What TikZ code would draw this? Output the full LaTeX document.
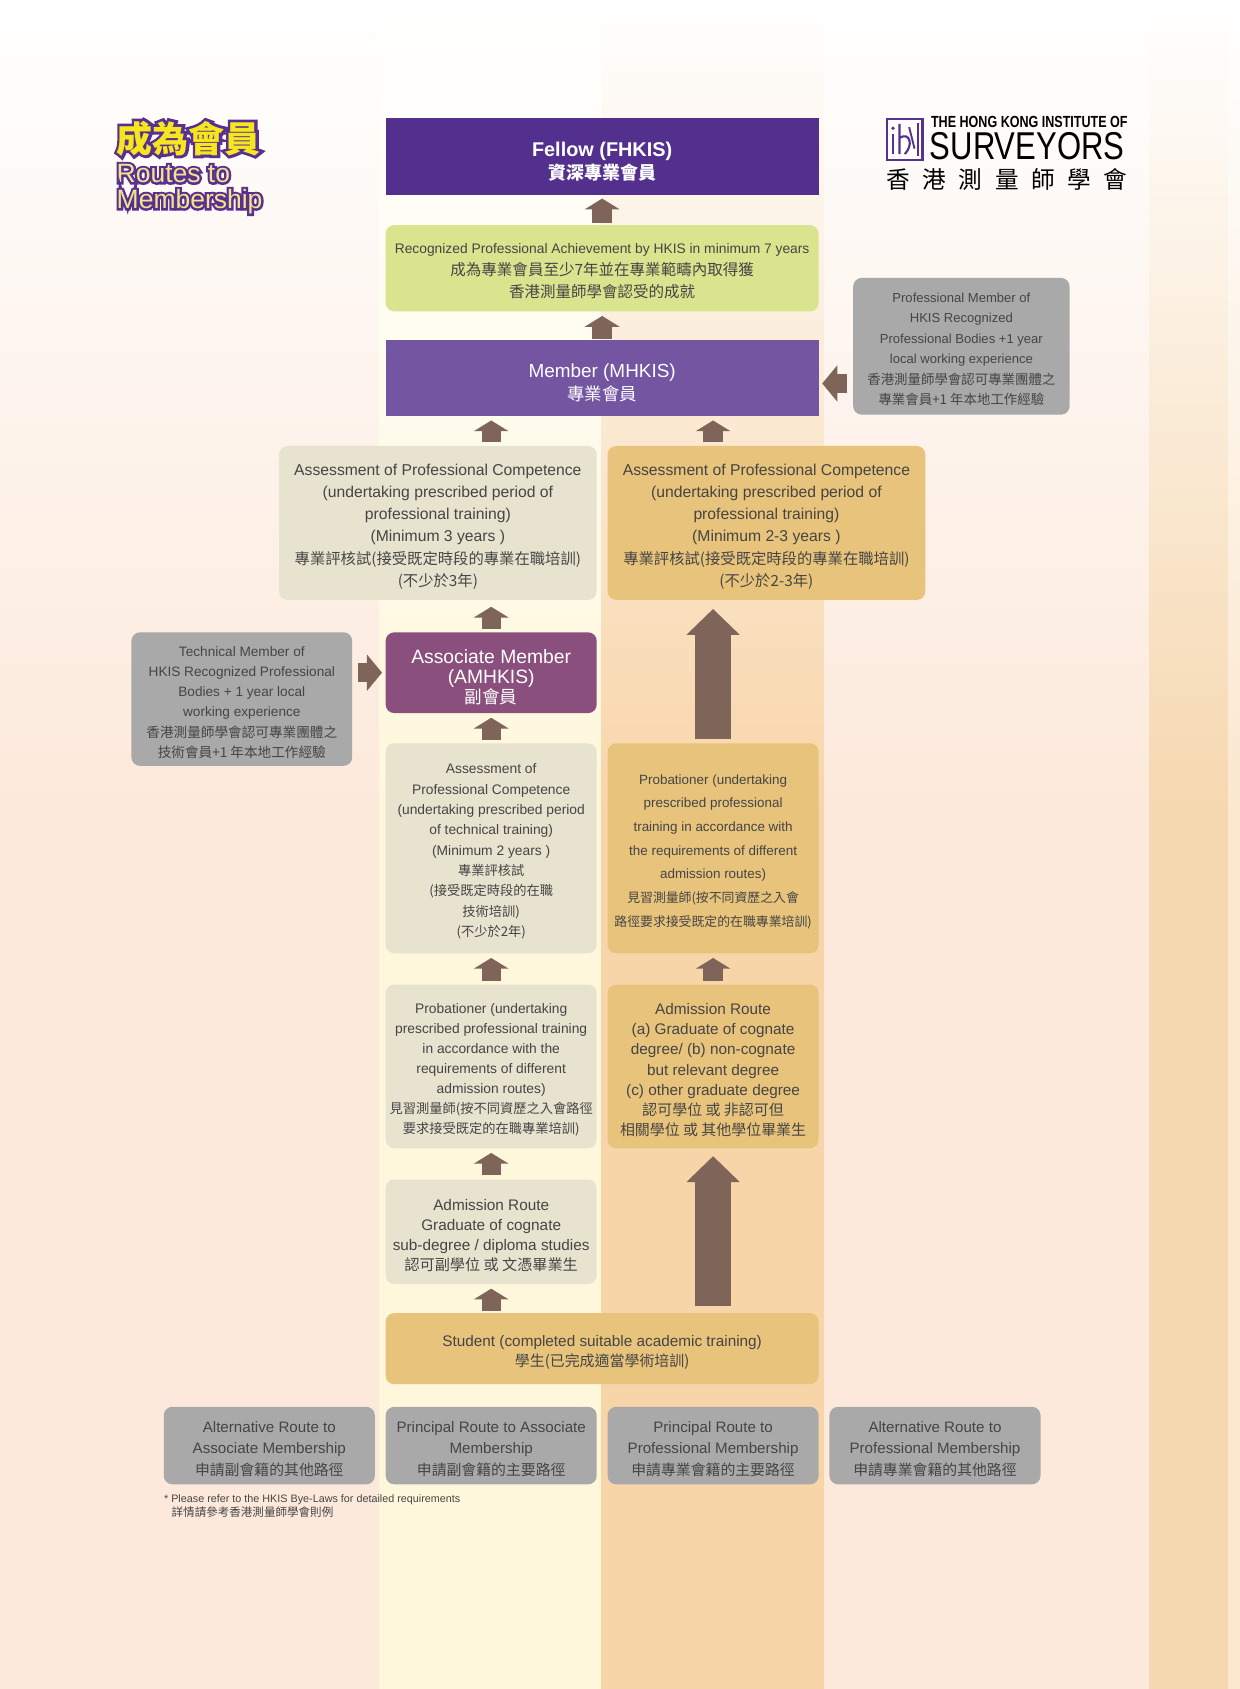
\documentclass[tikz,border=0pt]{standalone}
\usepackage{fontspec}
\usepackage{graphicx}
\setmainfont{Liberation Sans}
\newfontfamily\cjk{Noto Sans CJK TC}
\usetikzlibrary{arrows.meta,calc}
\definecolor{fellowc}{HTML}{54308E}
\definecolor{memberc}{HTML}{7355A1}
\definecolor{assocc}{HTML}{8A4F7D}
\definecolor{greenc}{HTML}{D9E48E}
\definecolor{beigec}{HTML}{E8E3CF}
\definecolor{goldc}{HTML}{E8C37B}
\definecolor{grayc}{HTML}{A9A9A9}
\definecolor{arrowc}{HTML}{7F6459}
\definecolor{txtc}{HTML}{454545}
\definecolor{peachc}{HTML}{FCE9DB}
\definecolor{colyc}{HTML}{FFF7DC}
\definecolor{coloc}{HTML}{F8D5A9}
\definecolor{stripec}{HTML}{F6D8B0}
\definecolor{edgec}{HTML}{FBE8CF}
\definecolor{ttlp}{HTML}{58308F}
\definecolor{ttly}{HTML}{F6E61E}
\definecolor{ttlyb}{HTML}{F3E38C}
\newcommand\zh[2]{{\cjk\fontsize{#1}{#1}\selectfont #2}}
\newcommand\fsz[2]{\fontsize{#1}{#2}\selectfont}
\newcommand\st{\rule{0pt}{1.2em}}
% thick purple stroke of a text (drawn behind the yellow text)
\newcommand\outlinetext[2]{\special{pdf:literal direct 2 Tr #1 w 0.345 0.188 0.561 RG}#2\special{pdf:literal direct 0 Tr}}
\begin{document}
\begin{tikzpicture}[x=0.02cm,y=-0.02cm,
  bx/.style={inner sep=0, align=center, text=txtc, rounded corners=0.16cm},
  blk/.style={draw=arrowc, line width=0.36cm, -{Triangle[width=0.64cm,length=0.2cm]}},
  big/.style={draw=arrowc, line width=0.68cm, -{Triangle[width=0.96cm,length=0.48cm]}},
  side/.style={draw=arrowc, line width=0.36cm, -{Triangle[width=0.66cm,length=0.28cm]}},
  ttl/.style={anchor=west, inner sep=0}]
\useasboundingbox (0,0) rectangle (1151,1568);
% background
\fill[white] (0,0) rectangle (1151,1568);
\foreach \xa/\xb/\c in {0/352/peachc, 352/558/colyc, 558/765/coloc, 765/1067/peachc, 1067/1140/stripec, 1140/1151/edgec}{
  \shade[top color=white, bottom color=\c] (\xa,0) rectangle (\xb,751);
  \fill[\c] (\xa,750) rectangle (\xb,1568);
}
% title: purple stroked copy behind, yellow text in front
\node[ttl, text=ttlp, font={\cjk\bfseries\fsz{19}{21}}] (ttlAo) at (108,128.5) {\outlinetext{3.0}{成為會員}};
\node[ttl, text=ttly, font={\cjk\bfseries\fsz{19}{21}}] (ttlA) at (108,128.5) {成為會員};
\node[ttl, text=ttlp, font={\fsz{14}{15}}] (ttlBo) at (108,161) {\outlinetext{2.4}{Routes to}};
\node[ttl, text=ttlyb, font={\fsz{14}{15}}] (ttlB) at (108,161) {Routes to};
\node[ttl, text=ttlp, font={\fsz{14}{15}}] (ttlCo) at (108,187) {\outlinetext{2.4}{Membership}};
\node[ttl, text=ttlyb, font={\fsz{14}{15}}] (ttlC) at (108,187) {Membership};
% logo
\node[draw=ttlp, line width=0.05cm, fill=white, minimum width=0.66cm, minimum height=0.76cm, inner sep=0] (icon) at (840,129.5) {};
\fill[ttlp] (829,119) circle (0.035cm);
\draw[ttlp, line width=0.05cm] (829,124) -- (829,143);
\draw[ttlp, line width=0.04cm] (835,115) -- (835,143) (835,128) .. controls (845,122) and (848,135) .. (840,143);
\draw[ttlp, line width=0.035cm] (844,118) -- (849,138);
\draw[ttlp, line width=0.04cm] (852,114) -- (852,145);
\node[anchor=west, inner sep=0] (lgA) at (864,113.5) {\scalebox{0.78}[1]{\bfseries\fsz{8.5}{9}THE HONG KONG INSTITUTE OF}};
\node[anchor=west, inner sep=0] (lgB) at (863,135.5) {\scalebox{0.8}[1]{\fsz{20.5}{22}SURVEYORS}};
\foreach \ch [count=\i from 0] in {香,港,測,量,師,學,會}{
  \node[inner sep=0, font={\cjk\fsz{12.5}{13}}] (lgc\i) at ({834+33.6*\i},166.5) {\ch};
}
% boxes
\node[bx, fill=fellowc, rounded corners=0, minimum width=8.04cm, minimum height=1.42cm, text=white, font={\bfseries\fsz{10.5}{12}}] (fellow) at (559,145.5)
  {\st Fellow (FHKIS)\\{\cjk\bfseries\fsz{9.5}{12}資深專業會員}};
\node[bx, fill=greenc, minimum width=8.04cm, minimum height=1.6cm, font={\fsz{7.3}{11.7}}] (achieve) at (559,249)
  {\st Recognized Professional Achievement by HKIS in minimum 7 years\\\zh{8.2}{成為專業會員至少7年並在專業範疇內取得獲}\\\zh{8.2}{香港測量師學會認受的成就}};
\node[bx, fill=memberc, rounded corners=0, minimum width=8.04cm, minimum height=1.4cm, text=white, font={\fsz{10}{12}}] (member) at (559,351)
  {\st Member (MHKIS)\\\zh{9.2}{專業會員}};
\node[bx, fill=grayc, minimum width=4.02cm, minimum height=2.54cm, font={\fsz{6.9}{10.8}}] (grayR) at (892.5,321.5)
  {\st Professional Member of\\HKIS Recognized\\Professional Bodies +1 year\\local working experience\\\zh{7.1}{香港測量師學會認可專業團體之}\\\zh{7.1}{專業會員+1 年本地工作經驗}};
\node[bx, fill=beigec, minimum width=5.9cm, minimum height=2.86cm, font={\fsz{8.3}{11.7}}] (apcL) at (406.5,485.5)
  {\st Assessment of Professional Competence\\(undertaking prescribed period of\\professional training)\\(Minimum 3 years )\\\zh{8.1}{專業評核試(接受既定時段的專業在職培訓)}\\\zh{8.1}{(不少於3年)}};
\node[bx, fill=goldc, minimum width=5.9cm, minimum height=2.86cm, font={\fsz{8.3}{11.7}}] (apcR) at (711.5,485.5)
  {\st Assessment of Professional Competence\\(undertaking prescribed period of\\professional training)\\(Minimum 2-3 years )\\\zh{8.1}{專業評核試(接受既定時段的專業在職培訓)}\\\zh{8.1}{(不少於2-3年)}};
\node[bx, fill=grayc, minimum width=4.1cm, minimum height=2.48cm, font={\fsz{7.2}{10.7}}] (grayL) at (224.5,649)
  {\st Technical Member of\\HKIS Recognized Professional\\Bodies + 1 year local\\working experience\\\zh{7.2}{香港測量師學會認可專業團體之}\\\zh{7.2}{技術會員+1 年本地工作經驗}};
\node[bx, fill=assocc, minimum width=3.92cm, minimum height=1.5cm, text=white, font={\fsz{10.2}{10.7}}] (assoc) at (456,624.5)
  {\st Associate Member\\(AMHKIS)\\\zh{9.3}{副會員}};
\node[bx, fill=beigec, minimum width=3.92cm, minimum height=3.9cm, font={\fsz{7.3}{10.75}}] (apcT) at (456,787.5)
  {\st Assessment of\\Professional Competence\\(undertaking prescribed period\\of technical training)\\(Minimum 2 years )\\\zh{7}{專業評核試}\\\zh{7}{(接受既定時段的在職}\\\zh{7}{技術培訓)}\\\zh{7}{(不少於2年)}};
\node[bx, fill=goldc, minimum width=3.92cm, minimum height=3.9cm, font={\fsz{7.1}{12.5}}] (probR) at (662,787.5)
  {\st Probationer (undertaking\\prescribed professional\\training in accordance with\\the requirements of different\\admission routes)\\\zh{6.8}{見習測量師(按不同資歷之入會}\\\zh{6.8}{路徑要求接受既定的在職專業培訓)}};
\node[bx, fill=beigec, minimum width=3.92cm, minimum height=3.04cm, font={\fsz{7.3}{10.6}}] (probL) at (456,990)
  {\st Probationer (undertaking\\prescribed professional training\\in accordance with the\\requirements of different\\admission routes)\\\zh{7}{見習測量師(按不同資歷之入會路徑}\\\zh{7}{要求接受既定的在職專業培訓)}};
\node[bx, fill=goldc, minimum width=3.92cm, minimum height=3.04cm, font={\fsz{8.1}{10.6}}] (admR) at (662,990)
  {\st Admission Route\\(a) Graduate of cognate\\degree/ (b) non-cognate\\but relevant degree\\(c) other graduate degree\\\zh{7.9}{認可學位 或 非認可但}\\\zh{7.9}{相關學位 或 其他學位畢業生}};
\node[bx, fill=beigec, minimum width=3.92cm, minimum height=1.94cm, font={\fsz{8.1}{10.6}}] (admL) at (456,1143.5)
  {\st Admission Route\\Graduate of cognate\\sub-degree / diploma studies\\\zh{8}{認可副學位 或 文憑畢業生}};
\node[bx, fill=goldc, minimum width=8.04cm, minimum height=1.32cm, font={\fsz{8.1}{10.8}}] (student) at (559,1252)
  {\st Student (completed suitable academic training)\\\zh{7.9}{學生(已完成適當學術培訓)}};
\node[bx, fill=grayc, minimum width=3.92cm, minimum height=1.44cm, font={\fsz{8}{11.4}}] (routeA) at (250,1342)
  {\st Alternative Route to\\Associate Membership\\\zh{7.85}{申請副會籍的其他路徑}};
\node[bx, fill=grayc, minimum width=3.92cm, minimum height=1.44cm, font={\fsz{8}{11.4}}] (routeB) at (456,1342)
  {\st Principal Route to Associate\\Membership\\\zh{7.85}{申請副會籍的主要路徑}};
\node[bx, fill=grayc, minimum width=3.92cm, minimum height=1.44cm, font={\fsz{8}{11.4}}] (routeC) at (662,1342)
  {\st Principal Route to\\Professional Membership\\\zh{7.85}{申請專業會籍的主要路徑}};
\node[bx, fill=grayc, minimum width=3.92cm, minimum height=1.44cm, font={\fsz{8}{11.4}}] (routeD) at (868,1342)
  {\st Alternative Route to\\Professional Membership\\\zh{7.85}{申請專業會籍的其他路徑}};
\node[anchor=north west, inner sep=0, align=left, text=txtc, font={\fsz{5.7}{7.4}}] (note) at (152,1387)
  {* Please refer to the HKIS Bye-Laws for detailed requirements\\\hspace*{4pt}\zh{6.1}{詳情請參考香港測量師學會則例}};
% arrows
\draw[blk, shorten <=0.04cm, shorten >=0.06cm] (achieve.north) -- (fellow.south);
\draw[blk, shorten <=0.02cm, shorten >=0.08cm] (member.north) -- (achieve.south);
\draw[blk, shorten <=0.06cm, shorten >=0.08cm] (apcL.north -| assoc.north) -- (member.south -| assoc.north);
\draw[blk, shorten <=0.06cm, shorten >=0.08cm] (apcR.north -| probR.north) -- (member.south -| probR.north);
\draw[blk, shorten <=0.06cm, shorten >=0.12cm] (assoc.north) -- (apcL.south -| assoc.north);
\draw[big, shorten <=0.08cm, shorten >=0.16cm] (probR.north) -- (apcR.south -| probR.north);
\draw[blk, shorten <=0.06cm, shorten >=0.08cm] (apcT.north) -- (assoc.south);
\draw[blk, shorten <=0.06cm, shorten >=0.08cm] (probL.north) -- (apcT.south);
\draw[blk, shorten <=0.06cm, shorten >=0.08cm] (admR.north) -- (probR.south);
\draw[blk, shorten <=0.08cm, shorten >=0.08cm] (admL.north) -- (probL.south);
\draw[big, shorten <=0.12cm, shorten >=0.14cm] (student.north -| admR.north) -- (admR.south);
\draw[blk, shorten <=0.04cm, shorten >=0.08cm] (student.north -| admL.north) -- (admL.south);
\draw[side, shorten <=0.1cm, shorten >=0.06cm] ([yshift=-0.1cm]member.east -| grayR.west) -- ([yshift=-0.1cm]member.east);
\draw[side, shorten <=0.1cm, shorten >=0.06cm] (assoc.west -| grayL.east) -- (assoc.west);
\end{tikzpicture}
\end{document}
